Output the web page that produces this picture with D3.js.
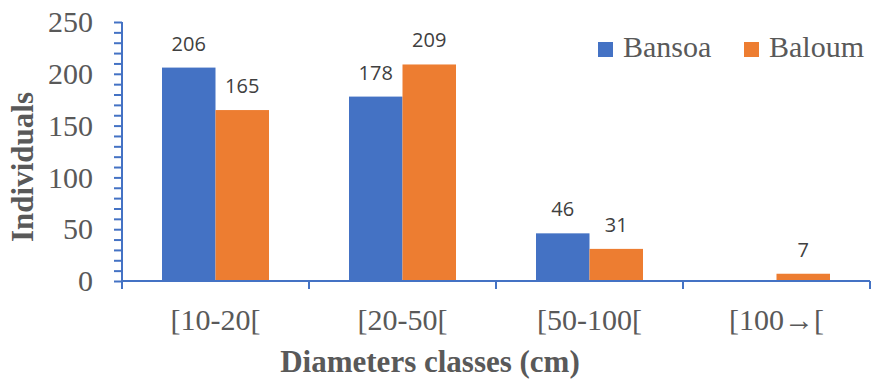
<!DOCTYPE html>
<html>
<head>
<meta charset="utf-8">
<script src="https://cdn.jsdelivr.net/npm/d3@7"></script>
<style>
  body { margin: 0; background: #fff; }
  svg { display: block; }
</style>
</head>
<body>
<svg id="chart" width="872" height="380"></svg>
<script>
const categories = ["[10-20[", "[20-50[", "[50-100[", "[100\u2192["];
const seriesNames = ["Bansoa", "Baloum"];
const bansoa = [206, 178, 46, 0];
const baloum = [165, 209, 31, 7];
const seriesColors = ["#4472C4", "#ED7D31"];
const yMajorTicks = [0, 50, 100, 150, 200, 250];
const yTitle = "Individuals";
const xTitle = "Diameters classes (cm)";

const svg = d3.select("#chart");
const axisColor = "#4472C4";
const textColor = "#595959";
const serif = "'Liberation Serif', 'Times New Roman', serif";
const sans = "'Open Sans', 'Noto Sans', sans-serif";

const plotLeft = 122, plotRight = 870, plotBottom = 281, plotTop = 22;

const x = d3.scaleBand().domain(categories).range([plotLeft, plotRight]).paddingInner(0).paddingOuter(0);
const xInner = d3.scaleBand().domain(seriesNames).range([40, 40 + 107]).padding(0);
const y = d3.scaleLinear().domain([0, 250]).range([plotBottom, plotTop]);

const data = categories.map((c, i) => ({ cat: c, values: [bansoa[i], baloum[i]] }));

// Bars
const groups = svg.append("g").selectAll("g").data(data).join("g")
  .attr("transform", d => `translate(${x(d.cat)},0)`);
groups.selectAll("rect").data(d => d.values.map((v, j) => ({ v, name: seriesNames[j], j })))
  .join("rect")
  .attr("x", d => xInner(d.name))
  .attr("width", xInner.bandwidth())
  .attr("y", d => y(d.v))
  .attr("height", d => y(0) - y(d.v))
  .attr("fill", d => seriesColors[d.j]);

// Data labels (skip zero values)
groups.selectAll("text").data(d => d.values.map((v, j) => ({ v, name: seriesNames[j], j })).filter(d => d.v > 0))
  .join("text")
  .attr("x", d => xInner(d.name) + xInner.bandwidth() / 2)
  .attr("y", d => y(d.v) - 17)
  .attr("text-anchor", "middle")
  .attr("font-family", sans)
  .attr("font-size", 20)
  .attr("fill", "#404040")
  .text(d => d.v);

// Y axis with minor ticks
const yAxis = d3.axisLeft(y).tickValues(d3.range(0, 251, 10)).tickSize(8).tickFormat("");
const yg = svg.append("g").attr("transform", `translate(${plotLeft},0)`).call(yAxis);
yg.select(".domain").attr("stroke", axisColor).attr("stroke-width", 2).attr("d", `M0,${plotTop}V${plotBottom + 8}`);
yg.selectAll(".tick line").attr("stroke", axisColor).attr("stroke-width", 2);

// Y labels
svg.append("g").selectAll("text").data(yMajorTicks).join("text")
  .attr("x", 93)
  .attr("y", d => y(d))
  .attr("dy", "0.34em")
  .attr("text-anchor", "end")
  .attr("font-family", serif)
  .attr("font-size", 30)
  .attr("fill", textColor)
  .text(d => d);

// X axis: ticks at category boundaries
const boundaries = categories.map(c => x(c)).concat([x(categories[categories.length - 1]) + x.bandwidth()]);
const xg = svg.append("g");
xg.append("line").attr("x1", plotLeft).attr("x2", plotRight).attr("y1", plotBottom).attr("y2", plotBottom)
  .attr("stroke", axisColor).attr("stroke-width", 2);
xg.selectAll("line.tk").data(boundaries).join("line").attr("class", "tk")
  .attr("x1", d => d).attr("x2", d => d).attr("y1", plotBottom).attr("y2", plotBottom + 8)
  .attr("stroke", axisColor).attr("stroke-width", 2);

// X labels
svg.append("g").selectAll("text").data(categories).join("text")
  .attr("x", d => x(d) + x.bandwidth() / 2)
  .attr("y", 330)
  .attr("text-anchor", "middle")
  .attr("font-family", serif)
  .attr("font-size", 30)
  .attr("fill", textColor)
  .text(d => d);

// Axis titles
svg.append("text")
  .attr("transform", "translate(33,167) rotate(-90)")
  .attr("text-anchor", "middle")
  .attr("font-family", serif)
  .attr("font-weight", "bold")
  .attr("font-size", 31)
  .attr("fill", textColor)
  .text(yTitle);

svg.append("text")
  .attr("x", 430)
  .attr("y", 372)
  .attr("text-anchor", "middle")
  .attr("font-family", serif)
  .attr("font-weight", "bold")
  .attr("font-size", 31)
  .attr("fill", textColor)
  .text(xTitle);

// Legend
const legendX = [598, 744];
const leg = svg.append("g").selectAll("g").data(seriesNames).join("g")
  .attr("transform", (d, i) => `translate(${legendX[i]},42)`);
leg.append("rect").attr("width", 15).attr("height", 15).attr("fill", (d, i) => seriesColors[i]);
leg.append("text")
  .attr("x", 25).attr("y", 15)
  .attr("font-family", serif)
  .attr("font-size", 30)
  .attr("fill", textColor)
  .text(d => d);
</script>
</body>
</html>
